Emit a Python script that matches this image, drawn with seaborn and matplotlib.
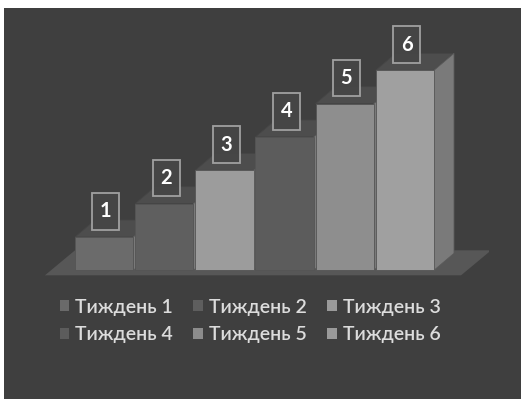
import matplotlib
matplotlib.use("Agg")
import matplotlib.pyplot as plt
import seaborn as sns
from matplotlib.patches import Polygon, Rectangle, Patch

weeks = ["Тиждень 1", "Тиждень 2", "Тиждень 3", "Тиждень 4", "Тиждень 5", "Тиждень 6"]
values = [1, 2, 3, 4, 5, 6]
labels = ["1", "2", "3", "4", "5", "6"]
front_colors = ["#6b6b6b", "#5f5f5f", "#9c9c9c", "#5c5c5c", "#8e8e8e", "#a0a0a0"]
legend_colors = ["#6a6a6a", "#5e5e5e", "#9a9a9a", "#5c5c5c", "#8c8c8c", "#9a9a9a"]

BG = "#3f3f3f"
sns.set_theme(style="white")
plt.rcParams['font.family'] = ['Lato', 'DejaVu Sans']

fig = plt.figure(figsize=(5.21, 3.99), dpi=100)
fig.patch.set_facecolor("white")
fig.patches.append(Rectangle((4 / 521, 0), 1, (399 - 8) / 399, transform=fig.transFigure,
                             facecolor=BG, edgecolor="none", zorder=-10))

ax = fig.add_axes([44 / 521, (399 - 277) / 399, 445 / 521, 256.7 / 399])
ax.set_zorder(2)
ax.set_facecolor("none")

sns.barplot(x=weeks, y=values, hue=weeks, palette=front_colors, width=0.97,
            legend=False, ax=ax, saturation=1, zorder=3, edgecolor="#555555", linewidth=0.6)

ax.set_xlim(-1.0, 6.4)
ax.set_ylim(-0.2, 7.5)
ax.axis("off")

dx, dy = 0.333, 0.51
bw, bh = 0.45, 1.1  # label box size in data units
bars = list(ax.patches)

# floor
x0 = bars[0].get_x() - 0.5
x1 = bars[-1].get_x() + bars[-1].get_width() + 0.45
floor = Polygon([(x0, -0.15), (x1, -0.15), (x1 + 0.5, 0.6), (x0 + 0.5, 0.6)],
                closed=True, facecolor="#575757", edgecolor="none", zorder=1)
ax.add_patch(floor)

for b, lab in zip(bars, labels):
    l = b.get_x(); w = b.get_width(); h = b.get_height(); r = l + w
    top = Polygon([(l, h), (r, h), (r + dx, h + dy), (l + dx, h + dy)], closed=True,
                  facecolor="#4d4d4d", edgecolor="#454545", linewidth=0.6, zorder=2)
    side = Polygon([(r, 0), (r + dx, dy), (r + dx, h + dy), (r, h)], closed=True,
                   facecolor="#7a7a7a", edgecolor="#5a5a5a", linewidth=0.6, zorder=2)
    ax.add_patch(top)
    ax.add_patch(side)
    cx, cy = l + w / 2 + 0.03, h + 0.77
    ax.add_patch(Rectangle((cx - bw / 2, cy - bh / 2), bw, bh, facecolor="#464646",
                           edgecolor="#a8a8a8", linewidth=1.3, alpha=0.92, zorder=4))
    ax.text(cx, cy, lab, ha="center", va="center", color="white",
            fontsize=14.5, fontweight="bold", zorder=5)

handles = [Patch(facecolor=c, edgecolor="none") for c in legend_colors]
order = [0, 3, 1, 4, 2, 5]
leg = fig.legend([handles[i] for i in order], [weeks[i] for i in order],
                 ncol=3, loc="upper left", bbox_to_anchor=(42 / 521, 1 - 281 / 399),
                 frameon=False, handlelength=0.5, handleheight=0.5,
                 handletextpad=0.3, columnspacing=1.05, labelspacing=0.55,
                 labelcolor="#dcdcdc", prop={"weight": "semibold", "size": 14})

fig.savefig("out.png", dpi=100, facecolor=fig.get_facecolor())
